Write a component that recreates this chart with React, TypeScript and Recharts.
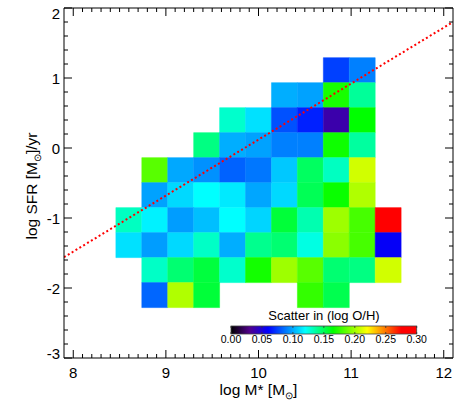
import React from 'react';
import { ComposedChart, XAxis, YAxis, Line, ReferenceArea } from 'recharts';

// bin edges
const massEdges = [8.46, 8.74, 9.02, 9.3, 9.58, 9.86, 10.14, 10.42, 10.7, 10.98, 11.26, 11.54];
const sfrEdges = [1.29, 0.933, 0.576, 0.219, -0.138, -0.495, -0.852, -1.209, -1.566, -1.923, -2.28];

const _ = null;
// scatter in log O/H per bin, rows from top (high SFR) to bottom
const scatterGrid: (number | null)[][] = [
  [_, _, _, _, _, _, _, _, 0.075, 0.09, _],
  [_, _, _, _, _, _, 0.101, 0.098, 0.17, 0.138, _],
  [_, _, _, _, 0.129, 0.113, 0.079, 0.0675, 0.038, 0.165, _],
  [_, _, _, 0.142, 0.101, 0.098, 0.09, 0.09, 0.168, 0.137, _],
  [_, 0.184, 0.0995, 0.094, 0.083, 0.088, 0.107, 0.148, 0.131, 0.21, _],
  [_, 0.098, 0.111, 0.12, 0.115, 0.099, 0.111, 0.15, 0.167, 0.203, _],
  [0.131, 0.117, 0.097, 0.105, 0.12, 0.11, 0.155, 0.134, 0.199, 0.18, 0.29],
  [0.113, 0.097, 0.111, 0.13, 0.101, 0.14, 0.145, 0.125, 0.195, 0.18, 0.058],
  [_, 0.13, 0.145, 0.154, 0.129, 0.169, 0.199, 0.184, 0.145, 0.142, 0.21],
  [_, 0.084, 0.203, 0.155, _, _, _, 0.176, 0.151, _, _],
];

// dotted relation
const fitMass = [7.9, 12.1];
const fitSfr = [-1.56, 1.8];

const xMajor = [8, 9, 10, 11, 12];
const yMajor = [-3, -2, -1, 0, 1, 2];
const cbarTicks = [0, 0.05, 0.1, 0.15, 0.2, 0.25, 0.3];

// IDL-like rainbow
const cmapStops = [0, 0.03, 0.06, 0.12, 0.165, 0.22, 0.275, 0.3];
const cmapColors = [
  [0, 0, 0],
  [80, 0, 140],
  [0, 0, 255],
  [0, 255, 255],
  [0, 255, 0],
  [255, 255, 0],
  [255, 0, 0],
  [255, 0, 0],
];

const FONT = '"Liberation Sans", Arial, Helvetica, sans-serif';

function colorFor(v: number) {
  let i = 0;
  while (i < cmapStops.length - 2 && v > cmapStops[i + 1]) i++;
  const t = Math.max(0, Math.min(1, (v - cmapStops[i]) / (cmapStops[i + 1] - cmapStops[i])));
  const c = cmapColors[i].map((a, k) => Math.round(a + (cmapColors[i + 1][k] - a) * t));
  return `rgb(${c[0]},${c[1]},${c[2]})`;
}

const xTicks = Array.from({ length: 41 }, (_v, i) => Math.round((8 + i * 0.1) * 10) / 10);
const yTicks = Array.from({ length: 26 }, (_v, i) => Math.round((-3 + i * 0.2) * 10) / 10);
const isMajor = (v: number) => xMajor.includes(v) || yMajor.includes(v);

const lineData = fitMass.map((m, i) => ({ x: m, y: fitSfr[i] }));

const cells: { x1: number; x2: number; y1: number; y2: number; v: number }[] = [];
scatterGrid.forEach((row, r) =>
  row.forEach((v, c) => {
    if (v === null) return;
    cells.push({ x1: massEdges[c], x2: massEdges[c + 1], y1: sfrEdges[r + 1], y2: sfrEdges[r], v });
  })
);

const BottomTick = (p: any) => {
  const v = p.payload.value;
  const major = isMajor(v);
  return (
    <g>
      <line x1={p.x} x2={p.x} y1={p.y} y2={p.y - (major ? 8 : 4)} stroke="#000" />
      {major && (
        <text x={p.x} y={p.y + 20} textAnchor="middle" fontSize={15} fontFamily={FONT} fill="#000">
          {v}
        </text>
      )}
    </g>
  );
};

const TopTick = (p: any) => {
  const major = isMajor(p.payload.value);
  return <line x1={p.x} x2={p.x} y1={p.y} y2={p.y + (major ? 8 : 4)} stroke="#000" />;
};

const LeftTick = (p: any) => {
  const v = p.payload.value;
  const major = isMajor(v);
  let shift = 0;
  if (v === 2) shift = 5;
  if (v === -3) shift = -5;
  return (
    <g>
      <line x1={p.x} x2={p.x + (major ? 8 : 4)} y1={p.y} y2={p.y} stroke="#000" />
      {major && (
        <text x={p.x - 4} y={p.y + 5.5 + shift} textAnchor="end" fontSize={15} fontFamily={FONT} fill="#000">
          {v}
        </text>
      )}
    </g>
  );
};

const RightTick = (p: any) => {
  const major = isMajor(p.payload.value);
  return <line x1={p.x} x2={p.x - (major ? 8 : 4)} y1={p.y} y2={p.y} stroke="#000" />;
};

const CB_X0 = 231;
const CB_X1 = 416.7;
const CB_Y0 = 326;
const CB_Y1 = 334;

export default function App() {
  const cbx = (v: number) => CB_X0 + (v / 0.3) * (CB_X1 - CB_X0);
  return (
    <div style={{ position: 'absolute', left: 0, top: 0, width: 463, height: 417, background: '#fff' }}>
      <ComposedChart width={463} height={417} data={lineData} margin={{ top: 6, right: 8, bottom: 0, left: 0 }}>
        <XAxis
          xAxisId="b"
          dataKey="x"
          type="number"
          domain={[7.9, 12.1]}
          ticks={xTicks}
          interval={0}
          height={59}
          tickSize={0}
          tickMargin={0}
          tickLine={false}
          tick={BottomTick}
          axisLine={{ stroke: '#000' }}
          allowDataOverflow
        />
        <XAxis
          xAxisId="t"
          dataKey="x"
          orientation="top"
          type="number"
          domain={[7.9, 12.1]}
          ticks={xTicks}
          interval={0}
          height={2}
          tickSize={0}
          tickMargin={0}
          tickLine={false}
          tick={TopTick}
          axisLine={{ stroke: '#000' }}
          allowDataOverflow
        />
        <YAxis
          yAxisId="l"
          type="number"
          domain={[-3, 2]}
          ticks={yTicks}
          interval={0}
          width={64}
          tickSize={0}
          tickMargin={0}
          tickLine={false}
          tick={LeftTick}
          axisLine={{ stroke: '#000' }}
          allowDataOverflow
        />
        <YAxis
          yAxisId="r"
          orientation="right"
          type="number"
          domain={[-3, 2]}
          ticks={yTicks}
          interval={0}
          width={2}
          tickSize={0}
          tickMargin={0}
          tickLine={false}
          tick={RightTick}
          axisLine={{ stroke: '#000' }}
          allowDataOverflow
        />
        {cells.map((c, i) => (
          <ReferenceArea
            key={i}
            xAxisId="b"
            yAxisId="l"
            x1={c.x1}
            x2={c.x2}
            y1={c.y1}
            y2={c.y2}
            fill={colorFor(c.v)}
            fillOpacity={1}
            stroke={colorFor(c.v)}
            strokeWidth={0.5}
          />
        ))}
        <Line
          xAxisId="b"
          yAxisId="l"
          dataKey="y"
          stroke="#ff0000"
          strokeWidth={2}
          strokeDasharray="2 2.5"
          dot={false}
          isAnimationActive={false}
        />
        <Line
          xAxisId="t"
          yAxisId="r"
          dataKey="y"
          stroke="none"
          dot={false}
          legendType="none"
          isAnimationActive={false}
        />
      </ComposedChart>
      <svg
        width={463}
        height={417}
        style={{ position: 'absolute', left: 0, top: 0, pointerEvents: 'none' }}
        fontFamily={FONT}
      >
        <defs>
          <linearGradient id="cbar" x1="0" x2="1" y1="0" y2="0">
            {cmapStops.map((s, i) => (
              <stop key={i} offset={s / 0.3} stopColor={`rgb(${cmapColors[i].join(',')})`} />
            ))}
          </linearGradient>
        </defs>
        <text x={324} y={319.5} textAnchor="middle" fontSize={13} fill="#000">
          Scatter in (log O/H)
        </text>
        <rect x={CB_X0} y={CB_Y0} width={CB_X1 - CB_X0} height={CB_Y1 - CB_Y0} fill="url(#cbar)" stroke="#444" strokeWidth={0.8} />
        {cbarTicks.map((t) => (
          <g key={t}>
            <line x1={cbx(t)} x2={cbx(t)} y1={CB_Y0} y2={CB_Y0 + 2} stroke="#333" strokeWidth={0.8} />
            <line x1={cbx(t)} x2={cbx(t)} y1={CB_Y1} y2={CB_Y1 - 2} stroke="#333" strokeWidth={0.8} />
            <text x={cbx(t)} y={343} textAnchor="middle" fontSize={10.5} fill="#000">
              {t.toFixed(2)}
            </text>
          </g>
        ))}
        <text x={258.5} y={395} textAnchor="middle" fontSize={15.5} fill="#000">
          log M* [M
          <tspan fontSize={10} dy={4}>⊙</tspan>
          <tspan dy={-4}>]</tspan>
        </text>
        <text transform="translate(37,186) rotate(-90)" textAnchor="middle" fontSize={15.5} fill="#000">
          log SFR [M
          <tspan fontSize={10} dy={4}>⊙</tspan>
          <tspan dy={-4}>]/yr</tspan>
        </text>
      </svg>
    </div>
  );
}
